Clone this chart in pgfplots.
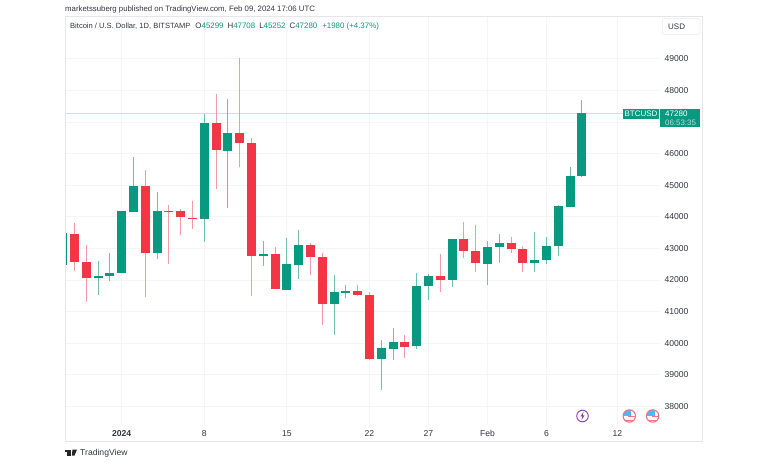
\documentclass[border=0pt]{standalone}
\usepackage{fontspec}
\setmainfont{Liberation Sans}
\usepackage{pgfplots}
\usepackage{pgfplotstable}
\pgfplotsset{compat=1.18}

\definecolor{upc}{HTML}{089981}
\definecolor{downc}{HTML}{F23645}
\definecolor{upw}{HTML}{6FC0B2}
\definecolor{downw}{HTML}{F49AA2}
\definecolor{gridc}{HTML}{F5F5F6}
\definecolor{framec}{HTML}{E6E6E9}
\definecolor{txt}{HTML}{33363F}
\definecolor{evt}{HTML}{8E3BA8}
\definecolor{lastp}{HTML}{BDE8DF}

% d = days from 1 Jan 2024
\pgfplotstableread{
d o h l c
-5 42470 43550 42400 43480
-2 42050 42588 41512 42135
-1 42124 42863 41966 42230
0 42219 44168 42219 44168
1 44158 45898 44158 44959
3 42852 44780 42650 44168
7 43915 47270 43200 46985
9 46078 47745 44284 46658
12 42757 43232 42430 42820
14 41671 43316 41671 42494
15 42462 43577 42040 43116
18 41228 42145 40246 41607
19 41597 41850 41428 41650
22 39487 40109 38506 39856
23 39824 40489 39455 40046
25 39898 42209 39803 41797
26 41797 42177 41375 42114
28 42008 43285 41787 43285
31 42515 43243 41850 43042
32 43042 43443 42525 43169
35 42546 43517 42251 42641
36 42641 43359 42515 43063
37 43063 44358 42757 44337
38 44316 45561 44316 45286
39 45299 47708 45252 47280
}\upcandles

\pgfplotstableread{
d o h l c
-4 43464 43788 42283 42567
-3 42567 43116 41300 42050
2 44959 45497 41448 42852
4 44190 44368 42504 44160
5 44179 44231 43430 43978
6 43968 44495 43620 43915
8 46985 47892 44885 46099
10 46658 49042 45582 46331
11 46331 46510 41502 42757
13 42820 43053 41700 41700
16 43116 43170 42166 42715
17 42726 42863 40584 41249
20 41650 41829 41500 41533
21 41533 41618 39460 39487
24 40046 40268 39529 39877
27 42114 42821 41618 42008
29 43285 43841 42684 42926
30 42926 43725 42261 42546
33 43169 43348 42863 42968
34 42968 43084 42251 42546
}\downcandles

\pgfplotsset{
  wick/.style={forget plot,draw=none,no markers,
    error bars/.cd,y dir=both,y explicit,error mark=none,
    error bar style={line width=0.9pt,color=#1}},
  body/.style={forget plot,draw=none,no markers,
    error bars/.cd,y dir=plus,y explicit,error mark=none,
    error bar style={line width=9pt,color=#1}},
}

\begin{document}
\begin{tikzpicture}[x=1pt,y=1pt]
\useasboundingbox (0,0) rectangle (768,463);
\begin{axis}[
  at={(65pt,37.5pt)},anchor=south west,
  scale only axis,width=595pt,height=409pt,
  xmin=-4.805,xmax=45.62,ymin=37391,ymax=50342,
  axis line style={draw=none},
  xtick={0,7,14,21,26,31,36,42},
  xticklabels={\textbf{2024},8,15,22,27,Feb,6,12},
  ytick={38000,39000,40000,41000,42000,43000,44000,45000,46000,47000,48000,49000},
  yticklabels={38000,39000,40000,41000,42000,43000,44000,45000,46000,{},48000,49000},
  scaled y ticks=false,
  yticklabel pos=right,
  major tick length=0pt,
  grid=major,
  grid style={color=gridc,line width=0.8pt},
  tick label style={font=\fontsize{8.6}{10}\selectfont,text=txt},
  xticklabel style={yshift=-1pt,text height=6.5pt,text depth=0pt},
  yticklabel style={xshift=1pt},
]
\addplot[draw=lastp,no markers,line width=0.8pt,forget plot] coordinates {(-4.805,47280) (42.9,47280)};

\addplot[wick=upw] table[x=d,y=o,y error plus expr=\thisrow{h}-\thisrow{o},y error minus expr=\thisrow{o}-\thisrow{l}] {\upcandles};
\addplot[wick=downw] table[x=d,y=o,y error plus expr=\thisrow{h}-\thisrow{o},y error minus expr=\thisrow{o}-\thisrow{l}] {\downcandles};
\addplot[body=upc] table[x=d,y=o,y error plus expr=\thisrow{c}-\thisrow{o}] {\upcandles};
\addplot[body=downc] table[x=d,y=c,y error plus expr=\thisrow{o}-\thisrow{c}] {\downcandles};
\end{axis}

% panel frame
\draw[framec,line width=0.8pt] (65,446.7) rectangle (702.7,21.7);

% header and legend
\node[anchor=west,inner sep=0,text=txt,font=\fontsize{7.8}{10}\selectfont] at (65,453.5)
  {marketssuberg published on TradingView.com, Feb 09, 2024 17:06 UTC};
\node[anchor=west,inner sep=0,text=txt,font=\fontsize{7.9}{10}\selectfont] at (70,437)
  {{\fontsize{7.55}{10}\selectfont Bitcoin / U.S. Dollar, 1D, BITSTAMP}\hspace{5pt}O\textcolor{upc}{45299}\hspace{4pt}H\textcolor{upc}{47708}\hspace{4pt}L\textcolor{upc}{45252}\hspace{4pt}C\textcolor{upc}{47280}\hspace{5pt}\textcolor{upc}{+1980 (+4.37\%)}};

% currency button
\draw[framec!60,fill=white,rounded corners=1.5pt,line width=0.7pt] (662.5,428.5) rectangle (700,444.5);
\node[anchor=west,inner sep=0,text=txt,font=\fontsize{8}{10}\selectfont] at (668,436) {USD};

% last price labels
\fill[upc] (623,344) rectangle (659,354);
\node[anchor=center,inner sep=0,text=white,font=\fontsize{8}{10}\selectfont] at (641,349) {BTCUSD};
\fill[upc] (660,336) rectangle (700,354);
\node[anchor=west,inner sep=0,text=white,font=\fontsize{8}{10}\selectfont] at (665,349) {47280};
\node[anchor=west,inner sep=0,text=white!70!upc,font=\fontsize{7.9}{10}\selectfont] at (665,340.5) {06:53:35};

% logo
\fill[black!85] (65,13.5) rectangle (70.5,11.5);
\fill[black!85] (67.3,11.5) rectangle (70.5,7.5);
\fill[black!85] (72.5,13.5) -- (77,13.5) -- (74.5,7.5) -- (71.8,7.5) -- cycle;
\node[anchor=west,inner sep=0,text=txt,font=\fontsize{8.6}{10}\selectfont] at (80,10) {TradingView};

% event icons
\draw[evt,line width=0.9pt] (582.5,47) circle (5.8);
\fill[evt] (583.5,51.2) -- (580.5,46.5) -- (582.3,46.5) -- (581.5,42.8) -- (584.5,47.6) -- (582.7,47.6) -- cycle;
\foreach \cx in {629.3,652.6} {
  \begin{scope}
    \clip (\cx,47) circle (6.2);
    \fill[white] (\cx-7,40) rectangle (\cx+7,54);
    \fill[downc!70!white] (\cx-7,41.5) rectangle (\cx+7,43);
    \fill[downc!70!white] (\cx-1,45.6) rectangle (\cx+7,47);
    \fill[blue!40!cyan!70!white] (\cx-7,47) rectangle (\cx+2,54);
  \end{scope}
  \draw[downc!70!white,line width=1.1pt] (\cx,47) circle (6.2);
}
\end{tikzpicture}
\end{document}
